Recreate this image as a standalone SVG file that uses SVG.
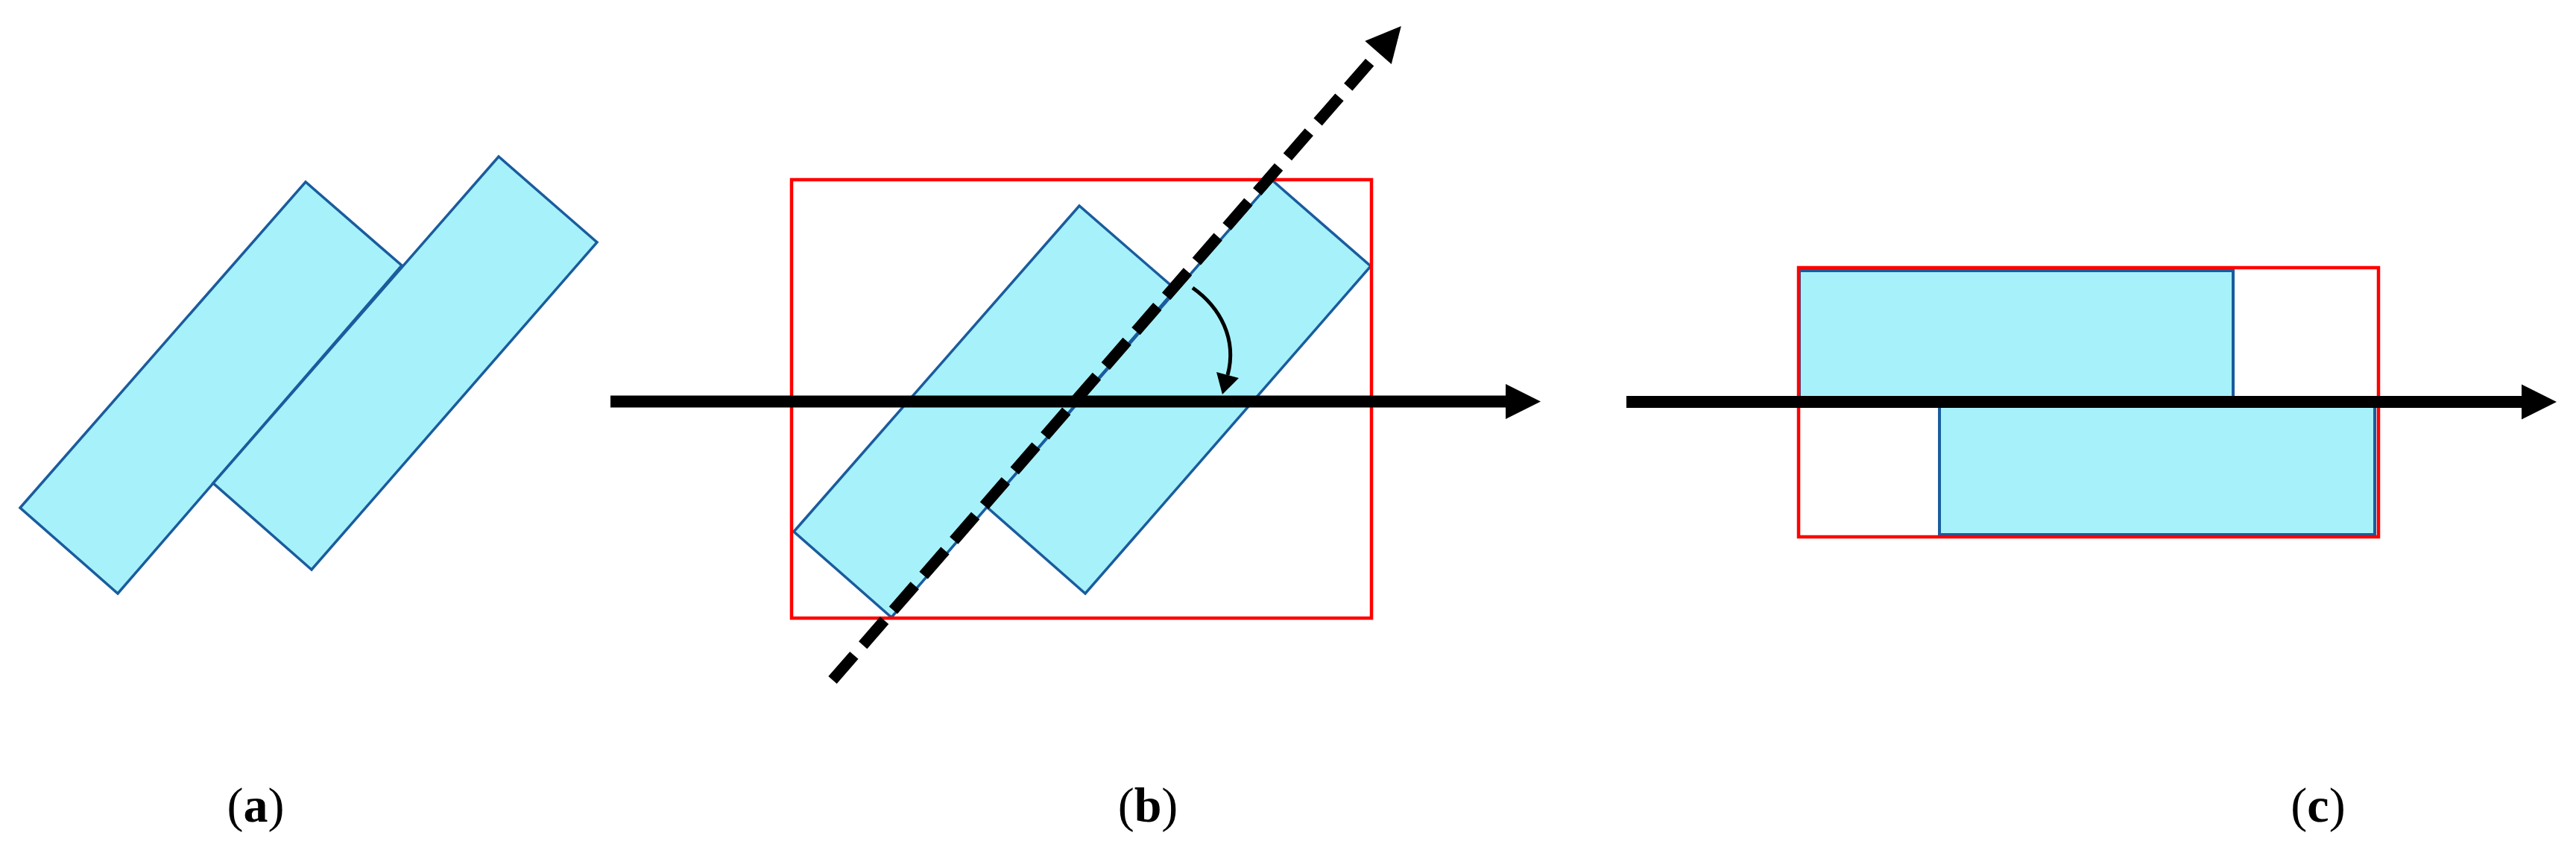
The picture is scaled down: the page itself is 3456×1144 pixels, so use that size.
<svg xmlns="http://www.w3.org/2000/svg" xmlns:xlink="http://www.w3.org/1999/xlink" width="3456" height="1144" viewBox="0 0 3456 1144">
  <style>
    .blk { fill: #A7F1FA; stroke: #1A5C9E; stroke-width: 3.5; stroke-linejoin: miter; }
    .blkc { fill: #A7F1FA; stroke: #1A5C9E; stroke-width: 4; }
    .box { fill: none; stroke: #FF0000; stroke-width: 4.5; }
    .axis { fill: none; stroke: #000000; stroke-width: 16; }
    .dash { fill: none; stroke: #000000; stroke-width: 15; stroke-dasharray: 44 18; }
    .arc { fill: none; stroke: #000000; stroke-width: 5; }
    .lbl { font-family: "Liberation Serif", "Times New Roman", serif; font-size: 66px; fill: #000000; text-anchor: middle; }
  </style>
  <defs>
    <marker id="head" markerUnits="userSpaceOnUse" markerWidth="48" markerHeight="48" refX="0" refY="23.5" orient="auto" overflow="visible">
      <path d="M0,0 L47,23.5 L0,47 Z" fill="#000000"/>
    </marker>
    <marker id="arcHead" markerUnits="userSpaceOnUse" markerWidth="30" markerHeight="32" refX="0" refY="15.5" orient="auto" overflow="visible">
      <path d="M0,0 L27,15.5 L0,31 Z" fill="#000000"/>
    </marker>
    <g id="pair">
      <polygon class="blk" points="1065,713 1448,276 1577,388 1196,828"/>
      <polygon class="blk" points="1324,680 1707,242 1839,357 1456,796"/>
    </g>
  </defs>
  <rect x="0" y="0" width="3456" height="1144" fill="#FFFFFF"/>

  <g id="panel-a">
    <use xlink:href="#pair" href="#pair" transform="translate(-1038,-32)"/>
  </g>

  <g id="panel-b">
    <use xlink:href="#pair" href="#pair"/>
    <rect class="box" x="1062" y="241" width="778" height="588"/>
  </g>

  <g id="panel-c">
    <rect class="blkc" x="2414" y="363" width="582" height="173"/>
    <rect class="blkc" x="2602" y="544" width="584" height="173"/>
    <rect class="box" x="2413" y="359" width="778" height="361"/>
  </g>

  <g id="connectors">
    <line class="axis" x1="819" y1="538.5" x2="2020" y2="538.5" marker-end="url(#head)"/>
    <line class="dash" x1="1117" y1="912" x2="1849" y2="70.5" marker-end="url(#head)"/>
    <path class="arc" d="M1600,386 C1637,412 1660,455 1647,503" marker-end="url(#arcHead)"/>
    <line class="axis" x1="2182" y1="539" x2="3383" y2="539" marker-end="url(#head)"/>
  </g>

  <g id="labels">
    <text class="lbl" x="343" y="1102">(<tspan font-weight="bold">a</tspan>)</text>
    <text class="lbl" x="1540" y="1102">(<tspan font-weight="bold">b</tspan>)</text>
    <text class="lbl" x="3110" y="1102">(<tspan font-weight="bold">c</tspan>)</text>
  </g>
</svg>
